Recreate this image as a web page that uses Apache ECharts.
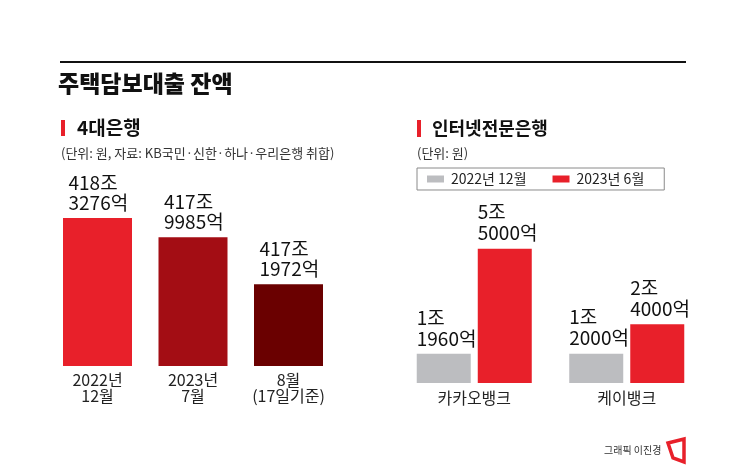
<!DOCTYPE html>
<html><head><meta charset="utf-8">
<script src="https://cdn.jsdelivr.net/npm/echarts@6/dist/echarts.min.js"></script>
<style>html,body{margin:0;padding:0;background:#fff}#c{width:745px;height:466px}</style>
</head><body><div id="c"></div>
<script>
// 4대은행 (조 원)
const bigCats = ['2022년\n12월', '2023년\n7월', '8월\n(17일기준)'];
const bigValues = [418.3276, 417.9985, 417.1972];
const bigLabels = [['418조', '3276억'], ['417조', '9985억'], ['417조', '1972억']];
const bigColors = ['#e8202a', '#a30d14', '#6a0000'];
// 인터넷전문은행 (조 원)
const netCats = ['카카오뱅크', '케이뱅크'];
const netPrev = [1.196, 1.2];
const netCurr = [5.5, 2.4];
const netPrevLabels = [['1조', '1960억'], ['1조', '2000억']];
const netCurrLabels = [['5조', '5000억'], ['2조', '4000억']];
const seriesNames = ['2022년 12월', '2023년 6월'];

const FONT = '"Noto Sans CJK KR", "Noto Sans", sans-serif';
const chart = echarts.init(document.getElementById('c'), null, {renderer: 'canvas'});

const labelStyle = (lines, lh, w) => ({
  show: true, position: 'top', distance: 5,
  formatter: p => lines[p.dataIndex].map(s => '{a|' + s + '}').join('\n'),
  rich: {a: {fontFamily: FONT, fontSize: 19, color: '#111', lineHeight: lh, width: w, align: 'left'}}
});

chart.setOption({
  backgroundColor: '#fff',
  animation: false,
  textStyle: {fontFamily: FONT},
  legend: {
    data: seriesNames,
    left: 417, top: 168,
    orient: 'horizontal',
    borderColor: '#8a8a8a', borderWidth: 1,
    padding: [4, 20, 4, 10],
    itemWidth: 17, itemHeight: 7, itemGap: 26,
    icon: 'rect',
    textStyle: {fontFamily: FONT, fontSize: 14, color: '#222', padding: [0, 0, 0, 2]}
  },
  grid: [
    {left: 49.75, width: 286.5, top: 170, height: 196},
    {left: 398, width: 305, top: 190, height: 193}
  ],
  xAxis: [
    {type: 'category', gridIndex: 0, data: bigCats,
     axisLine: {show: false}, axisTick: {show: false},
     axisLabel: {fontFamily: FONT, fontSize: 16, color: '#222', lineHeight: 16, margin: 6, interval: 0}},
    {type: 'category', gridIndex: 1, data: netCats,
     axisLine: {show: false}, axisTick: {show: false},
     axisLabel: {fontFamily: FONT, fontSize: 16, color: '#222', margin: 7, interval: 0}}
  ],
  yAxis: [
    {type: 'value', gridIndex: 0, min: 415.8, max: 419.147, show: false, splitLine: {show: false}},
    {type: 'value', gridIndex: 1, min: 0, max: 7.9, show: false, splitLine: {show: false}}
  ],
  series: [
    {type: 'bar', name: '4대은행', xAxisIndex: 0, yAxisIndex: 0, barWidth: 69,
     data: bigValues.map((v, i) => ({value: v, itemStyle: {color: bigColors[i]}})),
     label: labelStyle(bigLabels, 20, 58)},
    {type: 'bar', name: seriesNames[0], xAxisIndex: 1, yAxisIndex: 1, barWidth: 54, barGap: '13%',
     itemStyle: {color: '#bcbdc0'}, data: netPrev, label: labelStyle(netPrevLabels, 21, 54)},
    {type: 'bar', name: seriesNames[1], xAxisIndex: 1, yAxisIndex: 1, barWidth: 54, barGap: '13%',
     itemStyle: {color: '#e8202a'}, data: netCurr, label: labelStyle(netCurrLabels, 21, 54)}
  ],
  graphic: [
    {type: 'line', shape: {x1: 60, y1: 62, x2: 686, y2: 62}, style: {stroke: '#111', lineWidth: 2}},
    {type: 'text', style: {text: '주택담보대출 잔액', x: 58, y: 83, verticalAlign: 'middle',
      font: '900 23px ' + FONT, fill: '#111'}},
    {type: 'rect', shape: {x: 61, y: 120, width: 4, height: 16}, style: {fill: '#e8202a'}},
    {type: 'text', style: {text: '4대은행', x: 77, y: 128, verticalAlign: 'middle',
      font: 'bold 19px ' + FONT, fill: '#111'}},
    {type: 'text', style: {text: '(단위: 원, 자료: KB국민·신한·하나·우리은행 취합)', x: 61, y: 153,
      verticalAlign: 'middle', font: '13px ' + FONT, fill: '#333'}},
    {type: 'rect', shape: {x: 417, y: 120, width: 4, height: 17}, style: {fill: '#e8202a'}},
    {type: 'text', style: {text: '인터넷전문은행', x: 432, y: 128, verticalAlign: 'middle',
      font: 'bold 18px ' + FONT, fill: '#111'}},
    {type: 'text', style: {text: '(단위: 원)', x: 417, y: 153, verticalAlign: 'middle',
      font: '13px ' + FONT, fill: '#333'}},
    {type: 'text', style: {text: '그래픽 이진경', x: 604, y: 450, verticalAlign: 'middle',
      font: '10px ' + FONT, fill: '#333'}},
    {type: 'polygon', shape: {points: [[668, 443], [684, 439], [684, 462], [673, 458]]},
      style: {fill: '#fff', stroke: '#e8202a', lineWidth: 3.5}}
  ]
});
</script></body></html>
